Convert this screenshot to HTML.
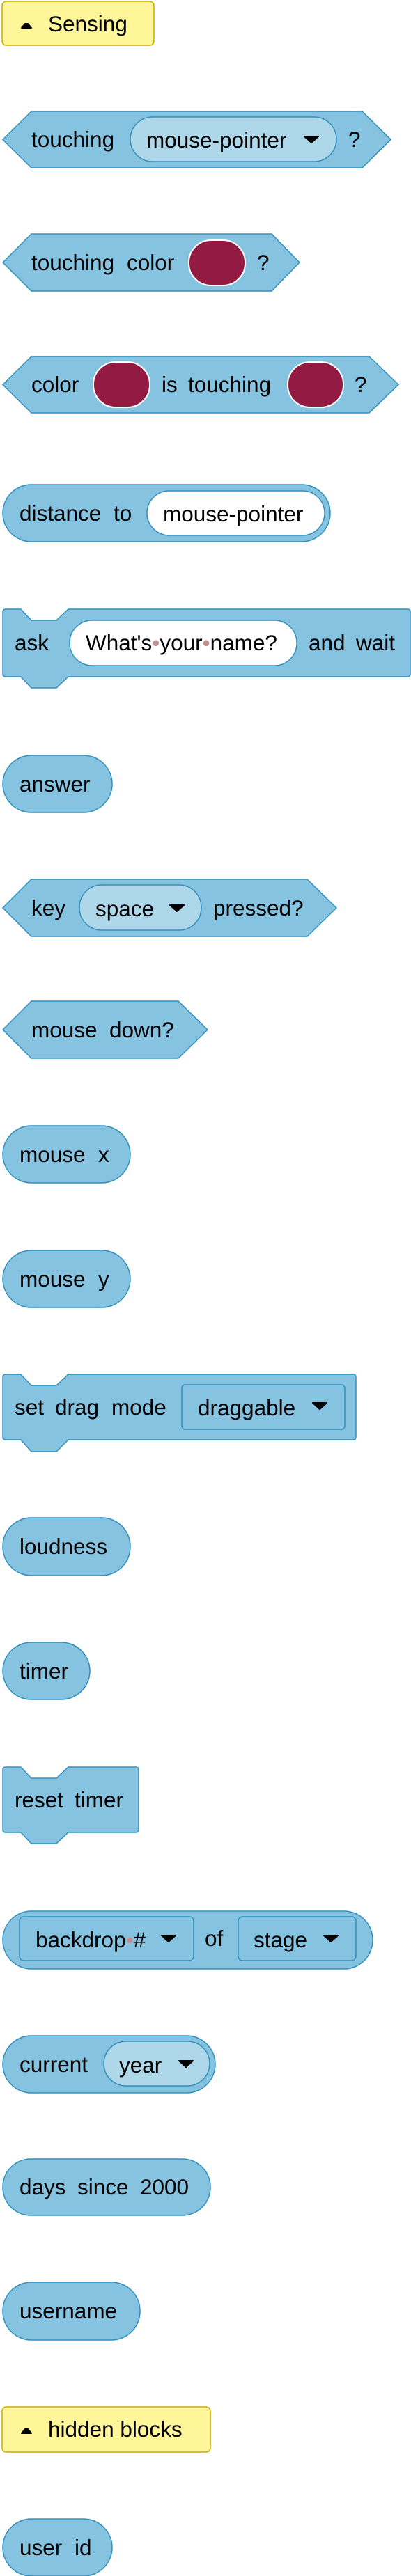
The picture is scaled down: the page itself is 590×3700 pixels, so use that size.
<!DOCTYPE html>
<html><head><meta charset="utf-8"><style>
html,body{margin:0;padding:0;background:#fff;}
svg{display:block;}
text{font-family:"Liberation Sans",Arial,sans-serif;font-size:31.5px;fill:#000;}
.blk{fill:#85C3E0;stroke:#3190BA;stroke-width:1.5;}
.dd{fill:#AED8EA;stroke:#3190BA;stroke-width:1.5;}
.ddr{fill:#85C3E0;stroke:#3190BA;stroke-width:1.5;}
.inp{fill:#fff;stroke:#3190BA;stroke-width:1.5;}
.col{fill:#921A43;stroke:#fff;stroke-width:2;}
.btn{fill:#FFF599;stroke:#C9AA00;stroke-width:1.5;}
.arr{fill:#000;stroke:#000;stroke-width:2;stroke-linejoin:round;}
</style></head><body>
<svg width="590" height="3700" viewBox="0 0 590 3700">
<!-- Sensing button -->
<g>
<rect class="btn" x="3" y="2" width="218" height="63" rx="6"/>
<path class="arr" d="M31,40 L45,40 L40,34 L36,34 Z"/>
<text x="69" y="45">Sensing</text>
</g>

<!-- touching mouse-pointer -->
<g>
<polygon class="blk" points="4,200.5 45,160 520,160 561,200.5 520,241 45,241"/>
<text x="45" y="211">touching</text>
<g>
<rect class="dd" x="187" y="168" width="296" height="64" rx="32"/>
<text x="210" y="212">mouse-pointer</text>
<path class="arr" d="M437,196 L457,196 L447,205 Z"/>
</g>
<text x="500" y="211">?</text>
</g>

<!-- touching color -->
<g>
<polygon class="blk" points="4,377 45,336 390,336 430,377 390,418 45,418"/>
<text x="45" y="388">touching</text>
<text x="182" y="388">color</text>
<rect class="col" x="271" y="345" width="81" height="65" rx="32"/>
<text x="369" y="388">?</text>
</g>

<!-- color is touching -->
<g>
<polygon class="blk" points="4,552.5 45,512 530,512 572,552.5 530,593 45,593"/>
<text x="45" y="563">color</text>
<rect class="col" x="134" y="520" width="81" height="65" rx="32"/>
<text x="232" y="563">is</text>
<text x="270" y="563">touching</text>
<rect class="col" x="413" y="520" width="80" height="65" rx="32"/>
<text x="509" y="563">?</text>
</g>

<!-- distance to -->
<g>
<rect class="blk" x="4" y="696" width="470" height="82" rx="41"/>
<text x="28" y="748">distance</text>
<text x="163" y="748">to</text>
<rect class="inp" x="211" y="705" width="255" height="64" rx="32"/>
<text x="234" y="749">mouse-pointer</text>
</g>

<!-- ask and wait -->
<g>
<path class="blk" d="M4,879 Q4,875 8,875 L30,875 L45,891 L81,891 L98,875 L585,875 Q589,875 589,879 L589,968 Q589,972 585,972 L98,972 L81,988 L45,988 L30,972 L8,972 Q4,972 4,968 Z"/>
<text x="21" y="934">ask</text>
<rect class="inp" x="100" y="891" width="326" height="65" rx="32"/>
<text x="123" y="934">What's<tspan fill="#c09090">•</tspan>your<tspan fill="#c09090">•</tspan>name?</text>
<text x="443" y="934">and</text>
<text x="511" y="934">wait</text>
</g>

<!-- answer -->
<g>
<rect class="blk" x="4" y="1085" width="157" height="82" rx="41"/>
<text x="28" y="1137">answer</text>
</g>

<!-- key pressed -->
<g>
<polygon class="blk" points="4,1304 45,1263 441,1263 483,1304 441,1345 45,1345"/>
<text x="45" y="1315">key</text>
<g>
<rect class="dd" x="114" y="1271" width="175" height="65" rx="32"/>
<text x="137" y="1316">space</text>
<path class="arr" d="M244,1300 L264,1300 L254,1309 Z"/>
</g>
<text x="306" y="1315">pressed?</text>
</g>

<!-- mouse down -->
<g>
<polygon class="blk" points="4,1479 45,1438 256,1438 298,1479 256,1520 45,1520"/>
<text x="45" y="1490">mouse</text>
<text x="157" y="1490">down?</text>
</g>

<!-- mouse x -->
<g>
<rect class="blk" x="4" y="1617" width="183" height="82" rx="41"/>
<text x="28" y="1669">mouse</text>
<text x="141" y="1669">x</text>
</g>

<!-- mouse y -->
<g>
<rect class="blk" x="4" y="1796" width="183" height="82" rx="41"/>
<text x="28" y="1848">mouse</text>
<text x="141" y="1848">y</text>
</g>

<!-- set drag mode -->
<g>
<path class="blk" d="M4,1978 Q4,1974 8,1974 L30,1974 L45,1990 L81,1990 L98,1974 L507,1974 Q511,1974 511,1978 L511,2064 Q511,2068 507,2068 L98,2068 L81,2085 L45,2085 L30,2068 L8,2068 Q4,2068 4,2064 Z"/>
<text x="21" y="2032">set</text>
<text x="79" y="2032">drag</text>
<text x="160" y="2032">mode</text>
<g>
<rect class="ddr" x="261" y="1989" width="234" height="64" rx="5"/>
<text x="284" y="2033">draggable</text>
<path class="arr" d="M449,2015 L469,2015 L459,2024 Z"/>
</g>
</g>

<!-- loudness -->
<g>
<rect class="blk" x="4" y="2180" width="183" height="83" rx="41"/>
<text x="28" y="2232">loudness</text>
</g>

<!-- timer -->
<g>
<rect class="blk" x="4" y="2359" width="125" height="82" rx="41"/>
<text x="28" y="2411">timer</text>
</g>

<!-- reset timer -->
<g>
<path class="blk" d="M4,2542 Q4,2538 8,2538 L30,2538 L45,2554 L81,2554 L98,2538 L195,2538 Q199,2538 199,2542 L199,2628 Q199,2632 195,2632 L98,2632 L81,2648 L45,2648 L30,2632 L8,2632 Q4,2632 4,2628 Z"/>
<text x="21" y="2596">reset</text>
<text x="107" y="2596">timer</text>
</g>

<!-- backdrop # of stage -->
<g>
<rect class="blk" x="4" y="2745" width="531" height="83" rx="41"/>
<g>
<rect class="ddr" x="28" y="2753" width="250" height="63" rx="6"/>
<text x="51" y="2797">backdrop<tspan fill="#c09090">•</tspan>#</text>
<path class="arr" d="M232,2780 L252,2780 L242,2789 Z"/>
</g>
<text x="294" y="2795">of</text>
<g>
<rect class="ddr" x="342" y="2753" width="169" height="63" rx="6"/>
<text x="364" y="2797">stage</text>
<path class="arr" d="M465,2780 L485,2780 L475,2789 Z"/>
</g>
</g>

<!-- current year -->
<g>
<rect class="blk" x="4" y="2924" width="305" height="82" rx="41"/>
<text x="28" y="2976">current</text>
<g>
<rect class="dd" x="149" y="2932" width="152" height="64" rx="32"/>
<text x="171" y="2977">year</text>
<path class="arr" d="M257,2960 L277,2960 L267,2969 Z"/>
</g>
</g>

<!-- days since 2000 -->
<g>
<rect class="blk" x="4" y="3101" width="298" height="81" rx="40"/>
<text x="28" y="3152">days</text>
<text x="111" y="3152">since</text>
<text x="201" y="3152">2000</text>
</g>

<!-- username -->
<g>
<rect class="blk" x="4" y="3278" width="197" height="83" rx="41"/>
<text x="28" y="3330">username</text>
</g>

<!-- hidden blocks button -->
<g>
<rect class="btn" x="3" y="3457" width="299" height="65" rx="6"/>
<path class="arr" d="M31,3495 L45,3495 L40,3489 L36,3489 Z"/>
<text x="69" y="3500">hidden blocks</text>
</g>

<!-- user id -->
<g>
<rect class="blk" x="4" y="3618" width="157" height="82" rx="41"/>
<text x="28" y="3670">user</text>
<text x="107" y="3670">id</text>
</g>
</svg>
</body></html>
